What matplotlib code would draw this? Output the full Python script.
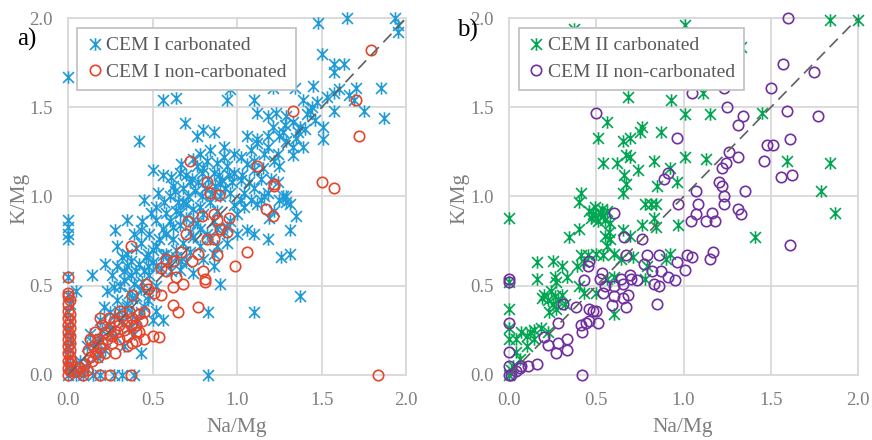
import numpy as np
import matplotlib
matplotlib.use("Agg")
import matplotlib.pyplot as plt
from matplotlib.path import Path

plt.rcParams['font.family'] = ['Liberation Serif', 'DejaVu Serif']

# ---- data: (Na/Mg, K/Mg) pairs ----
cem1_carb = np.array([
    (0.00, 1.67), (1.48, 1.97), (1.65, 2.00), (1.93, 2.00), (1.95, 1.96), (1.95, 1.92), (1.50, 1.80), (1.57, 1.74),
    (1.63, 1.74), (1.57, 1.70), (1.85, 1.61), (1.70, 1.61), (1.45, 1.62), (1.34, 1.61), (1.57, 1.58), (1.69, 1.54),
    (1.75, 1.48), (1.87, 1.44), (1.57, 1.48), (1.39, 1.54), (1.43, 1.48), (1.51, 1.39), (1.51, 1.32), (1.37, 1.39),
    (1.33, 1.28), (1.39, 1.28), (1.33, 1.23), (1.29, 1.45), (1.23, 1.47), (1.21, 1.39), (1.18, 1.45), (1.12, 1.47),
    (1.10, 1.54), (1.06, 1.34), (1.12, 1.32), (1.18, 1.34), (1.25, 1.34), (1.29, 1.31), (1.16, 1.24), (1.22, 1.20),
    (1.25, 1.17), (1.10, 1.20), (0.98, 1.24), (0.94, 1.54), (0.96, 1.60), (1.21, 1.61), (0.56, 1.54), (0.64, 1.55),
    (0.69, 1.41), (0.76, 1.34), (0.80, 1.37), (0.86, 1.36), (0.92, 1.28), (0.42, 1.31), (0.50, 1.15), (0.56, 1.12),
    (0.62, 1.06), (0.45, 0.98), (0.52, 0.94), (0.58, 0.91), (0.66, 1.13), (0.72, 1.08), (0.78, 1.24), (0.82, 1.20),
    (0.76, 1.17), (0.86, 1.13), (0.94, 1.17), (0.98, 1.13), (1.02, 1.09), (0.90, 1.07), (0.96, 1.02), (1.04, 1.02),
    (1.10, 1.05), (1.14, 0.98), (1.18, 1.02), (1.25, 0.98), (1.29, 1.00), (1.31, 0.96), (1.35, 0.89), (1.31, 0.81),
    (1.18, 0.76), (1.10, 0.79), (1.06, 0.81), (1.00, 0.79), (0.94, 0.83), (1.31, 0.68), (1.26, 0.66), (1.37, 0.44),
    (1.10, 0.35), (0.83, 0.35), (0.83, 0.00), (0.90, 0.51), (0.86, 0.68), (0.82, 0.79), (0.74, 0.87), (0.78, 0.94),
    (0.70, 0.96), (0.66, 0.91), (0.62, 0.83), (0.58, 0.79), (0.52, 0.87), (0.48, 0.79), (0.43, 0.81), (0.39, 0.79),
    (0.35, 0.87), (0.28, 0.81), (0.29, 0.72), (0.35, 0.68), (0.43, 0.74), (0.47, 0.68), (0.52, 0.72), (0.58, 0.68),
    (0.64, 0.66), (0.70, 0.63), (0.74, 0.57), (0.66, 0.59), (0.52, 0.61), (0.47, 0.61), (0.35, 0.61), (0.29, 0.61),
    (0.22, 0.62), (0.14, 0.56), (0.05, 0.47), (0.00, 0.55), (0.00, 0.87), (0.00, 0.83), (0.00, 0.79), (0.00, 0.76),
    (0.27, 0.49), (0.33, 0.53), (0.39, 0.51), (0.43, 0.48), (0.47, 0.42), (0.52, 0.36), (0.56, 0.31), (0.50, 0.31),
    (0.43, 0.35), (0.35, 0.38), (0.29, 0.42), (0.25, 0.35), (0.19, 0.31), (0.13, 0.23), (0.11, 0.16), (0.19, 0.20),
    (0.25, 0.23), (0.33, 0.16), (0.39, 0.23), (0.43, 0.12), (0.19, 0.12), (0.07, 0.08), (0.00, 0.00), (0.05, 0.00),
    (0.09, 0.00), (0.15, 0.00), (0.19, 0.00), (0.27, 0.00), (0.32, 0.00), (0.39, 0.00),
    (0.60, 1.00), (0.63, 1.03), (0.65, 0.97), (0.68, 1.05), (0.71, 1.00), (0.73, 1.10), (0.75, 1.03), (0.77, 1.08),
    (0.79, 1.13), (0.81, 1.05), (0.83, 1.10), (0.85, 1.02), (0.87, 1.06), (0.89, 1.12), (0.91, 1.09), (0.93, 1.05),
    (0.95, 1.12), (0.97, 1.08), (0.84, 0.97), (0.88, 0.92), (0.80, 0.90), (0.76, 0.85), (0.72, 0.80), (0.70, 0.88),
    (0.66, 0.84), (0.62, 0.76), (0.60, 0.86), (0.56, 0.82), (0.54, 0.76), (0.50, 0.70), (0.46, 0.66), (0.42, 0.62),
    (0.40, 0.58), (0.37, 0.56), (0.33, 0.58), (0.31, 0.50), (0.36, 0.46), (0.40, 0.44), (0.44, 0.52), (0.48, 0.56),
    (0.52, 0.50), (0.55, 0.60), (0.59, 0.64), (0.64, 0.70), (0.68, 0.74), (0.74, 0.77), (0.78, 0.72), (0.84, 0.76),
    (0.88, 0.72), (0.92, 0.80), (0.96, 0.86), (1.00, 0.90), (1.04, 0.94), (1.08, 0.98), (1.12, 0.96), (1.16, 1.00),
    (1.14, 1.10), (1.10, 1.15), (1.06, 1.18), (1.02, 1.22), (1.08, 1.26), (1.12, 1.30), (1.18, 1.28), (1.24, 1.24),
    (1.28, 1.40), (1.33, 1.42), (1.36, 1.36), (1.41, 1.46), (1.44, 1.50), (1.47, 1.53), (1.53, 1.56), (1.60, 1.60),
    (1.66, 1.57), (1.27, 1.00), (1.29, 0.97), (1.22, 0.92), (1.19, 0.88),
    (0.15, 0.18), (0.20, 0.25), (0.24, 0.28), (0.28, 0.22), (0.32, 0.30), (0.36, 0.26), (0.38, 0.34), (0.41, 0.30),
    (0.27, 0.33), (0.22, 0.14), (0.17, 0.10), (0.12, 0.06), (0.08, 0.04), (0.04, 0.02), (0.03, 0.05), (0.45, 0.38),
    (0.48, 0.45), (0.35, 0.40),
    (0.00, 0.05), (0.01, 0.10), (0.00, 0.15), (0.01, 0.20), (0.00, 0.25), (0.01, 0.30), (0.00, 0.35), (0.01, 0.40),
    (0.00, 0.45),
    (0.61, 1.11), (0.67, 1.18), (0.70, 1.12), (0.74, 1.21), (0.80, 1.16), (0.84, 1.26), (0.88, 1.19), (0.92, 1.22),
    (0.90, 1.00), (0.86, 0.86), (0.78, 0.82), (0.74, 0.93), (0.68, 0.97), (0.64, 0.92), (0.57, 0.97), (0.53, 1.02),
    (0.49, 0.91), (0.44, 0.86), (0.40, 0.71), (0.37, 0.64), (0.32, 0.66), (0.26, 0.56), (0.23, 0.47), (0.21, 0.38),
    (0.30, 0.36), (0.38, 0.43), (0.45, 0.58), (0.50, 0.63), (0.56, 0.67), (0.61, 0.58), (0.67, 0.64), (0.72, 0.69),
    (0.80, 0.65), (0.86, 0.61), (0.94, 0.74), (0.98, 0.95), (1.03, 1.12), (1.07, 1.08), (1.15, 1.16), (1.20, 1.10),
    (1.24, 1.08), (1.35, 1.33), (1.40, 1.38), (1.46, 1.43), (1.27, 1.36), (1.02, 0.98), (0.88, 0.82), (0.79, 1.00),
])

cem1_noncarb = np.array([
    (1.79, 1.82), (1.70, 1.54), (1.33, 1.48), (1.72, 1.34), (1.12, 1.17), (0.72, 1.20), (0.82, 1.08), (1.50, 1.08),
    (1.57, 1.05), (1.22, 1.07), (1.22, 1.06), (0.84, 1.02), (0.89, 1.01), (1.17, 0.93), (1.21, 0.89), (0.79, 0.89),
    (0.86, 0.90), (0.88, 0.87), (0.95, 0.88), (0.90, 0.82), (0.94, 0.80), (0.71, 0.86), (0.70, 0.79), (0.82, 0.76),
    (0.86, 0.76), (0.88, 0.67), (1.06, 0.69), (0.99, 0.61), (0.37, 0.72), (0.67, 0.69), (0.58, 0.65), (0.62, 0.64),
    (0.73, 0.64), (0.77, 0.68), (0.55, 0.60), (0.58, 0.58), (0.64, 0.55), (0.62, 0.49), (0.68, 0.51), (0.80, 0.58),
    (0.81, 0.54), (0.81, 0.52), (0.46, 0.51), (0.38, 0.45), (0.51, 0.46), (0.55, 0.45), (0.47, 0.48), (0.77, 0.38),
    (0.62, 0.39), (0.65, 0.35), (0.00, 0.55), (0.00, 0.46), (0.19, 0.32), (0.37, 0.00), (0.25, 0.00), (0.19, 0.00),
    (0.09, 0.00), (1.83, 0.00), (0.50, 0.22), (0.54, 0.21), (0.45, 0.20), (0.40, 0.19),
    (0.12, 0.14), (0.15, 0.16), (0.18, 0.20), (0.20, 0.18), (0.22, 0.24), (0.25, 0.27), (0.27, 0.30), (0.30, 0.28),
    (0.32, 0.33), (0.34, 0.30), (0.36, 0.36), (0.38, 0.32), (0.40, 0.28), (0.42, 0.34), (0.44, 0.30), (0.40, 0.24),
    (0.35, 0.22), (0.30, 0.20), (0.26, 0.18), (0.22, 0.12), (0.18, 0.10), (0.14, 0.08), (0.10, 0.06), (0.07, 0.04),
    (0.05, 0.02), (0.28, 0.12), (0.33, 0.25), (0.37, 0.28), (0.42, 0.24), (0.24, 0.32), (0.20, 0.28), (0.16, 0.24),
    (0.45, 0.35), (0.31, 0.36), (0.29, 0.24), (0.26, 0.22), (0.23, 0.20), (0.19, 0.15), (0.16, 0.12), (0.13, 0.10),
    (0.11, 0.03), (0.09, 0.02), (0.38, 0.18), (0.35, 0.16), (0.13, 0.20),
    (0.00, 0.00), (0.01, 0.02), (0.00, 0.04), (0.01, 0.06), (0.00, 0.08), (0.01, 0.10), (0.00, 0.12), (0.01, 0.14),
    (0.00, 0.16), (0.01, 0.18), (0.00, 0.20), (0.01, 0.22), (0.00, 0.24), (0.01, 0.26), (0.00, 0.28), (0.01, 0.30),
    (0.00, 0.32), (0.01, 0.34), (0.00, 0.36), (0.00, 0.40), (0.01, 0.42), (0.00, 0.44), (0.02, 0.03), (0.02, 0.08),
])

cem2_carb = np.array([
    (1.84, 1.99), (2.00, 1.99), (1.01, 1.96), (0.37, 1.94), (1.33, 1.84), (0.68, 1.56), (0.93, 1.54), (1.11, 1.58),
    (1.01, 1.46), (1.15, 1.46), (1.45, 1.47), (0.56, 1.42), (0.51, 1.33), (0.76, 1.39), (0.75, 1.36), (0.87, 1.36),
    (0.65, 1.31), (0.69, 1.33), (0.54, 1.19), (0.62, 1.19), (0.67, 1.23), (0.69, 1.22), (0.83, 1.20), (0.74, 1.15),
    (1.01, 1.22), (1.13, 1.21), (0.92, 1.16), (0.96, 1.08), (0.66, 1.12), (0.67, 1.07), (0.65, 1.02), (0.85, 1.06),
    (0.41, 1.02), (0.40, 0.97), (0.78, 0.96), (0.81, 0.96), (0.84, 0.96), (0.76, 0.84), (0.84, 0.83), (0.97, 0.84),
    (0.83, 0.88), (0.40, 0.82), (0.34, 0.77), (0.00, 0.88),
    (0.46, 0.92), (0.48, 0.90), (0.50, 0.88), (0.52, 0.91), (0.54, 0.89), (0.49, 0.94), (0.51, 0.86), (0.53, 0.93),
    (0.55, 0.87), (0.47, 0.88), (0.56, 0.92), (0.58, 0.85), (0.57, 0.80), (0.55, 0.78),
    (0.65, 0.81), (0.69, 0.78), (0.58, 0.76), (0.56, 0.72), (0.60, 0.68), (0.54, 0.67), (0.64, 0.65), (0.50, 0.68),
    (0.45, 0.67), (0.41, 0.67), (0.43, 0.63), (0.39, 0.61), (0.92, 0.68), (0.90, 0.65), (0.71, 0.66), (0.79, 0.61),
    (0.16, 0.63), (0.25, 0.64), (0.30, 0.61), (0.16, 0.54), (0.26, 0.55), (0.27, 0.52), (0.33, 0.55), (0.40, 0.50),
    (0.43, 0.46), (0.50, 0.46), (0.56, 0.54), (0.60, 0.55), (0.00, 0.52), (0.00, 0.37), (0.00, 0.26), (0.00, 0.20),
    (0.20, 0.45), (0.22, 0.42), (0.24, 0.47), (0.26, 0.44), (0.28, 0.42), (0.30, 0.45), (0.25, 0.40), (0.27, 0.37),
    (0.23, 0.35), (0.32, 0.40), (0.19, 0.43),
    (0.60, 0.34), (0.04, 0.20), (0.07, 0.24), (0.10, 0.22), (0.12, 0.24), (0.14, 0.25), (0.18, 0.26), (0.22, 0.24),
    (0.14, 0.20), (0.10, 0.16), (0.04, 0.13), (0.06, 0.09), (0.02, 0.05), (0.00, 0.00), (0.01, 0.03),
    (1.59, 1.20), (1.84, 1.19), (1.79, 1.03), (1.87, 0.91), (1.41, 0.77), (0.78, 0.54),
])

cem2_noncarb = np.array([
    (1.60, 2.00), (1.57, 1.74), (1.75, 1.70), (1.50, 1.61), (1.23, 1.61), (1.05, 1.58), (1.25, 1.50), (1.59, 1.48),
    (1.77, 1.45), (0.50, 1.47), (1.34, 1.45), (1.31, 1.40), (0.96, 1.33), (1.61, 1.32), (1.48, 1.29), (1.51, 1.29),
    (1.26, 1.25), (1.31, 1.22), (1.46, 1.20), (1.24, 1.19), (1.22, 1.16), (1.56, 1.11), (1.62, 1.12), (0.89, 1.10),
    (0.91, 1.13), (1.20, 1.08), (1.22, 1.06), (1.07, 1.03), (1.35, 1.03), (1.23, 1.00), (0.97, 0.96), (1.08, 0.96),
    (1.23, 0.96), (1.31, 0.93), (1.33, 0.90), (1.16, 0.91), (1.07, 0.90), (0.60, 0.91), (1.04, 0.86), (1.13, 0.86),
    (1.18, 0.86), (1.61, 0.73), (0.66, 0.77), (0.76, 0.76), (1.17, 0.69), (1.15, 0.65), (0.67, 0.67), (0.79, 0.67),
    (0.86, 0.67), (1.02, 0.67), (1.05, 0.66), (0.96, 0.63), (1.01, 0.59), (0.77, 0.62), (0.45, 0.61), (0.46, 0.64),
    (0.43, 0.53), (0.53, 0.57), (0.52, 0.54), (0.55, 0.50), (0.60, 0.50), (0.65, 0.51), (0.64, 0.54), (0.69, 0.56),
    (0.70, 0.54), (0.73, 0.53), (0.82, 0.58), (0.87, 0.58), (0.91, 0.55), (0.95, 0.53), (0.83, 0.51), (0.86, 0.50),
    (0.54, 0.46), (0.60, 0.44), (0.68, 0.45), (0.65, 0.43), (0.85, 0.40), (0.67, 0.38), (0.59, 0.39), (0.38, 0.38),
    (0.46, 0.37), (0.48, 0.36), (0.50, 0.36), (0.31, 0.40), (0.28, 0.29), (0.41, 0.28), (0.44, 0.29), (0.46, 0.30),
    (0.51, 0.29), (0.42, 0.24), (0.33, 0.20), (0.28, 0.18), (0.20, 0.21), (0.22, 0.17), (0.33, 0.14), (0.27, 0.12),
    (0.16, 0.06), (0.11, 0.05), (0.06, 0.04), (0.07, 0.05), (0.42, 0.00), (0.00, 0.54), (0.00, 0.52), (0.00, 0.29),
    (0.00, 0.13), (0.00, 0.05), (0.00, 0.00), (0.01, 0.00), (0.04, 0.02),
])

ticks = [0.0, 0.5, 1.0, 1.5, 2.0]
tick_labels = ["0.0", "0.5", "1.0", "1.5", "2.0"]
diag = [0.0, 2.0]

# Excel style "star" marker: an X with a vertical stroke
star = Path([(-1, -1), (1, 1), (-1, 1), (1, -1), (0, -1.15), (0, 1.15)],
            [Path.MOVETO, Path.LINETO, Path.MOVETO, Path.LINETO, Path.MOVETO, Path.LINETO])

GRID = '#D9D9D9'
TXT = '#7F7F7F'

fig = plt.figure(figsize=(8.72, 4.4), dpi=100)
ax_a = fig.add_axes([0.078, 0.148, 0.388, 0.811])
ax_b = fig.add_axes([0.584, 0.148, 0.400, 0.811])


def style_axes(ax):
    ax.set_xlim(0, 2)
    ax.set_ylim(0, 2)
    ax.set_xticks(ticks)
    ax.set_yticks(ticks)
    ax.set_xticklabels(tick_labels)
    ax.set_yticklabels(tick_labels)
    ax.tick_params(length=0, labelsize=13.5, labelcolor=TXT)
    ax.tick_params(axis='x', pad=12)
    ax.tick_params(axis='y', pad=11)
    ax.grid(True, color=GRID, linewidth=1.3)
    ax.set_axisbelow(True)
    for s in ax.spines.values():
        s.set_color(GRID)
        s.set_linewidth(1.3)


def panel(ax, carb, noncarb, c_carb, c_non, lab_carb, lab_non):
    style_axes(ax)
    ax.plot(carb[:, 0], carb[:, 1], linestyle='none', marker=star, markersize=9,
            markerfacecolor='none', markeredgecolor=c_carb, markeredgewidth=1.2,
            clip_on=False, zorder=3, label=lab_carb)
    ax.plot(noncarb[:, 0], noncarb[:, 1], linestyle='none', marker='o', markersize=7.5,
            markerfacecolor='none', markeredgecolor=c_non, markeredgewidth=1.2,
            clip_on=False, zorder=4, label=lab_non)
    ax.plot(diag, diag, color='#606060', linewidth=1.2, dashes=(7, 4), zorder=5)
    leg = ax.legend(loc='upper left', bbox_to_anchor=(0.027, 0.972), borderaxespad=0,
                    fontsize=14, frameon=True, fancybox=False, framealpha=1,
                    edgecolor='#BFBFBF', handlelength=0.9, handletextpad=0.15,
                    borderpad=0.45, labelspacing=0.45, labelcolor='#595959')
    leg.get_frame().set_linewidth(1.2)
    leg.set_zorder(10)


panel(ax_a, cem1_carb, cem1_noncarb, '#1F9BD7', '#E8442A',
      'CEM I carbonated', 'CEM I non-carbonated')
panel(ax_b, cem2_carb, cem2_noncarb, '#00A651', '#7030A0',
      'CEM II carbonated', 'CEM II non-carbonated')

# axis titles and panel letters
for xc, yl_x in [(237 / 872, 20 / 872), (683 / 872, 460 / 872)]:
    fig.text(xc, 1 - 427 / 440, 'Na/Mg', fontsize=15.5, color=TXT, ha='center', va='center')
    fig.text(yl_x, 1 - 198 / 440, 'K/Mg', fontsize=15.5, color=TXT, ha='center', va='center',
             rotation=90)
fig.text(17 / 872, 1 - 39 / 440, 'a)', fontsize=18, color='black', ha='left', va='center')
fig.text(457 / 872, 1 - 30 / 440, 'b)', fontsize=18, color='black', ha='left', va='center')

fig.savefig('out.png', dpi=100)
